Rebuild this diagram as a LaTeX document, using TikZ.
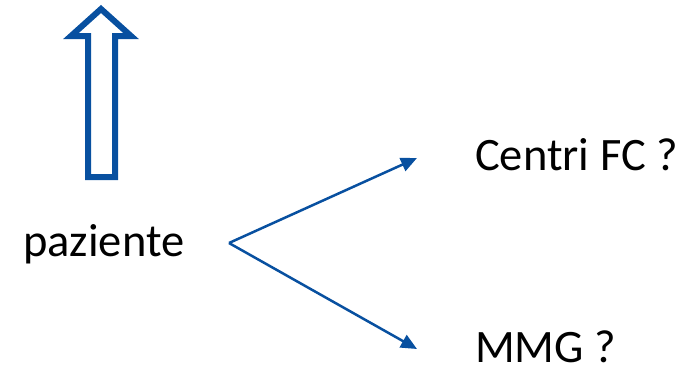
\documentclass[tikz,border=0pt]{standalone}
\usepackage{fontspec}
\setmainfont{Carlito}
\usetikzlibrary{arrows.meta}
\definecolor{arrowblue}{RGB}{8,80,160}
\begin{document}
\begin{tikzpicture}[x=1pt,y=-1pt,
  lbl/.style={font=\fontsize{46.5}{54}\selectfont, inner sep=0pt, anchor=base west},
  conn/.style={draw=arrowblue, line width=2.5pt, -{Triangle[length=16pt,width=14pt]}},
  blockarrow/.style={draw=arrowblue, line width=6pt, line join=miter, fill=white}]
\useasboundingbox (0,0) rectangle (690,368);
\draw[blockarrow] (88,177) -- (88,36) -- (71,36) -- (101,9) -- (131,36) -- (115,36) -- (115,177) -- cycle;
\node[lbl] (paz) at (23,256.5) {paziente};
\node[lbl] (cfc) at (475,170) {Centri FC ?};
\node[lbl] (mmg) at (475,362.5) {MMG ?};
\coordinate (v) at (229,243);
\coordinate (t1) at (417,158);
\coordinate (t2) at (417,349);
\draw[conn] (v) -- (t1);
\draw[conn] (v) -- (t2);
\end{tikzpicture}
\end{document}
